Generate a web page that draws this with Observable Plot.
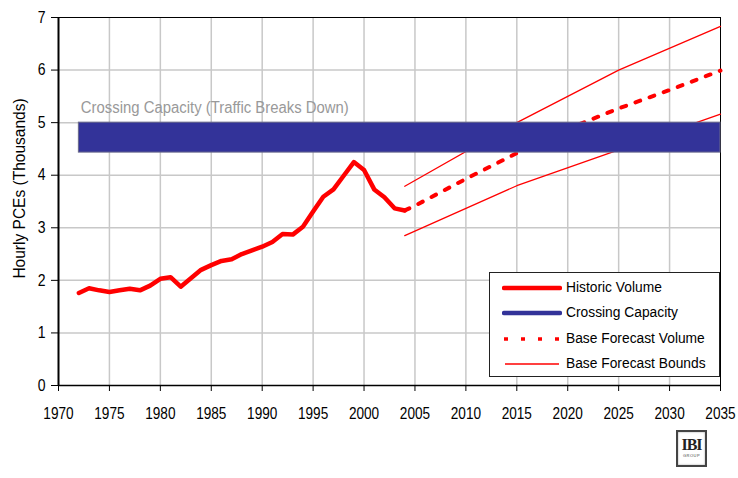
<!DOCTYPE html>
<html>
<head>
<meta charset="utf-8">
<script src="https://cdn.jsdelivr.net/npm/d3@7"></script>
<script src="https://cdn.jsdelivr.net/npm/@observablehq/plot@0.6"></script>
<style>
  html, body { margin: 0; padding: 0; background: #fff; }
  #wrap { position: relative; width: 738px; height: 478px; font-family: "Liberation Sans", Arial, sans-serif; }
  #legend { position: absolute; left: 489px; top: 272px; width: 231px; height: 105px; box-sizing: border-box; border: 1px solid #222; background: #fff; }
  .row { position: absolute; left: 0; height: 20px; width: 100%; }
  .row svg { position: absolute; left: 12px; top: 4px; }
  .row span { position: absolute; left: 76px; top: 0px; font-size: 15.5px; color: #000; white-space: nowrap; display: inline-block; transform: scaleX(0.89); transform-origin: left center; }
  #logo { position: absolute; left: 676px; top: 430px; width: 31px; height: 37px; box-sizing: border-box; border: 2px solid #444; background: #fff; text-align: center; box-shadow: inset 0 0 2px #999; }
  #logo .ibi { font-family: "Liberation Serif", "DejaVu Serif", serif; font-weight: bold; font-size: 16px; line-height: 16px; margin-top: 5px; letter-spacing: -1px; color: #222; }
  #logo .grp { font-family: "Liberation Sans", sans-serif; font-size: 4px; line-height: 5px; color: #444; letter-spacing: 0.5px; }
</style>
</head>
<body>
<div id="wrap"></div>
<script>
// ---- data ----
const historicYears = [1972,1973,1974,1975,1976,1977,1978,1979,1980,1981,1982,1983,1984,1985,1986,1987,1988,1989,1990,1991,1992,1993,1994,1995,1996,1997,1998,1999,2000,2001,2002,2003,2004];
const historicVolume = [1.76,1.85,1.81,1.78,1.81,1.84,1.81,1.90,2.03,2.06,1.88,2.04,2.20,2.29,2.37,2.40,2.50,2.57,2.64,2.73,2.88,2.87,3.02,3.31,3.59,3.73,3.99,4.25,4.10,3.73,3.58,3.37,3.33];

const forecastYears = [2004,2005,2010,2015,2020,2025,2030,2035];
const forecastVolume = [3.33,3.42,3.93,4.42,4.88,5.27,5.62,5.99];

const boundYears = [2004,2015,2025,2035];
const upperBound = [3.79,5.00,6.00,6.83];
const lowerBound = [2.85,3.80,4.48,5.16];

const capacityYears = [1972,2035];
const capacityTop = 5.0;
const capacityBottom = 4.43;
const capacityLabel = "Crossing Capacity (Traffic Breaks Down)";
const yTitle = "Hourly PCEs (Thousands)";

const xTicks = [1970,1975,1980,1985,1990,1995,2000,2005,2010,2015,2020,2025,2030,2035];
const yTicks = [0,1,2,3,4,5,6,7];

const legendLabels = ["Historic Volume","Crossing Capacity","Base Forecast Volume","Base Forecast Bounds"];

// ---- tables ----
const hist = historicYears.map((y,i)=>({year:y, v:historicVolume[i]}));
const fc = forecastYears.map((y,i)=>({year:y, v:forecastVolume[i]}));
const up = boundYears.map((y,i)=>({year:y, v:upperBound[i]}));
const lo = boundYears.map((y,i)=>({year:y, v:lowerBound[i]}));
const cap = [{x1:capacityYears[0], x2:capacityYears[1], y1:capacityBottom, y2:capacityTop}];

const font = '"Liberation Sans", Arial, sans-serif';

const chart = Plot.plot({
  width: 738,
  height: 478,
  marginLeft: 58,
  marginRight: 18,
  marginTop: 17,
  marginBottom: 93,
  style: {fontFamily: font, fontSize: "16px", color: "#000", background: "#fff"},
  x: {domain: [1970, 2035]},
  y: {domain: [0, 7]},
  marks: [
    Plot.gridX(xTicks.slice(1, -1), {stroke: "#c8c8c8", strokeOpacity: 1, strokeWidth: 1.5}),
    Plot.gridY(yTicks.slice(1, -1), {stroke: "#c8c8c8", strokeOpacity: 1, strokeWidth: 1.5}),
    Plot.frame({stroke: "#000", strokeWidth: 1}),
    Plot.axisX(xTicks, {tickSize: 6, tickPadding: 15, tickFormat: d => String(d), fontSize: 17, label: null, className: "xt"}),
    Plot.axisY(yTicks, {tickSize: 7, tickPadding: 6, tickFormat: d => String(d), fontSize: 16.5, label: null, className: "yt"}),
    Plot.ruleX([1970], {stroke: "#000", strokeWidth: 2}),
    Plot.ruleY([0], {stroke: "#000", strokeWidth: 1.5}),
    Plot.line(up, {x: "year", y: "v", stroke: "#ff0000", strokeWidth: 1.3}),
    Plot.line(lo, {x: "year", y: "v", stroke: "#ff0000", strokeWidth: 1.3}),
    Plot.line(fc, {x: "year", y: "v", stroke: "#ff0000", strokeWidth: 4, strokeDasharray: "5,10"}),
    Plot.rect(cap, {x1: "x1", x2: "x2", y1: "y1", y2: "y2", fill: "#333399", stroke: "#6a6a8a", strokeWidth: 1}),
    Plot.line(hist, {x: "year", y: "v", stroke: "#ff0000", strokeWidth: 4.5, strokeLinejoin: "round", strokeLinecap: "round"}),
    Plot.text([capacityLabel], {x: capacityYears[0], y: capacityTop, text: d => d, dx: 2, dy: -15, textAnchor: "start", fill: "#999", fontSize: 16, className: "cap"}),
    Plot.text([yTitle], {frameAnchor: "left", text: d => d, rotate: -90, textAnchor: "middle", dx: -39, dy: -13, fontSize: 16.5, fill: "#000", className: "ytitle"})
  ]
});

const wrap = document.getElementById("wrap");
wrap.appendChild(chart);

// condense text horizontally like the reference's narrow typeface
function condense(selector, k) {
  chart.querySelectorAll(selector).forEach(t => {
    const L = t.getComputedTextLength();
    t.setAttribute("textLength", (L * k).toFixed(2));
    t.setAttribute("lengthAdjust", "spacingAndGlyphs");
  });
}
condense(".xt text", 0.8);
condense(".yt text", 0.85);
condense(".cap text", 0.93);
condense(".ytitle text", 0.94);

// legend (HTML overlay)
const legend = document.createElement("div");
legend.id = "legend";
const swatches = [
  '<line x1="2" y1="6" x2="58" y2="6" stroke="#ff0000" stroke-width="4.5" stroke-linecap="round"/>',
  '<line x1="2" y1="6" x2="58" y2="6" stroke="#333399" stroke-width="4.5" stroke-linecap="round"/>',
  '<line x1="2" y1="6" x2="58" y2="6" stroke="#ff0000" stroke-width="3.5" stroke-dasharray="4,13"/>',
  '<line x1="3" y1="6" x2="57" y2="6" stroke="#ff0000" stroke-width="1.3"/>'
];
legendLabels.forEach((lab, i) => {
  const r = document.createElement("div");
  r.className = "row";
  r.style.top = (5 + i * 25.3) + "px";
  r.innerHTML = `<svg width="60" height="12">${swatches[i]}</svg><span>${lab}</span>`;
  legend.appendChild(r);
});
wrap.appendChild(legend);

const logo = document.createElement("div");
logo.id = "logo";
logo.innerHTML = '<div class="ibi">IBI</div><div class="grp">GROUP</div>';
wrap.appendChild(logo);
</script>
</body>
</html>
